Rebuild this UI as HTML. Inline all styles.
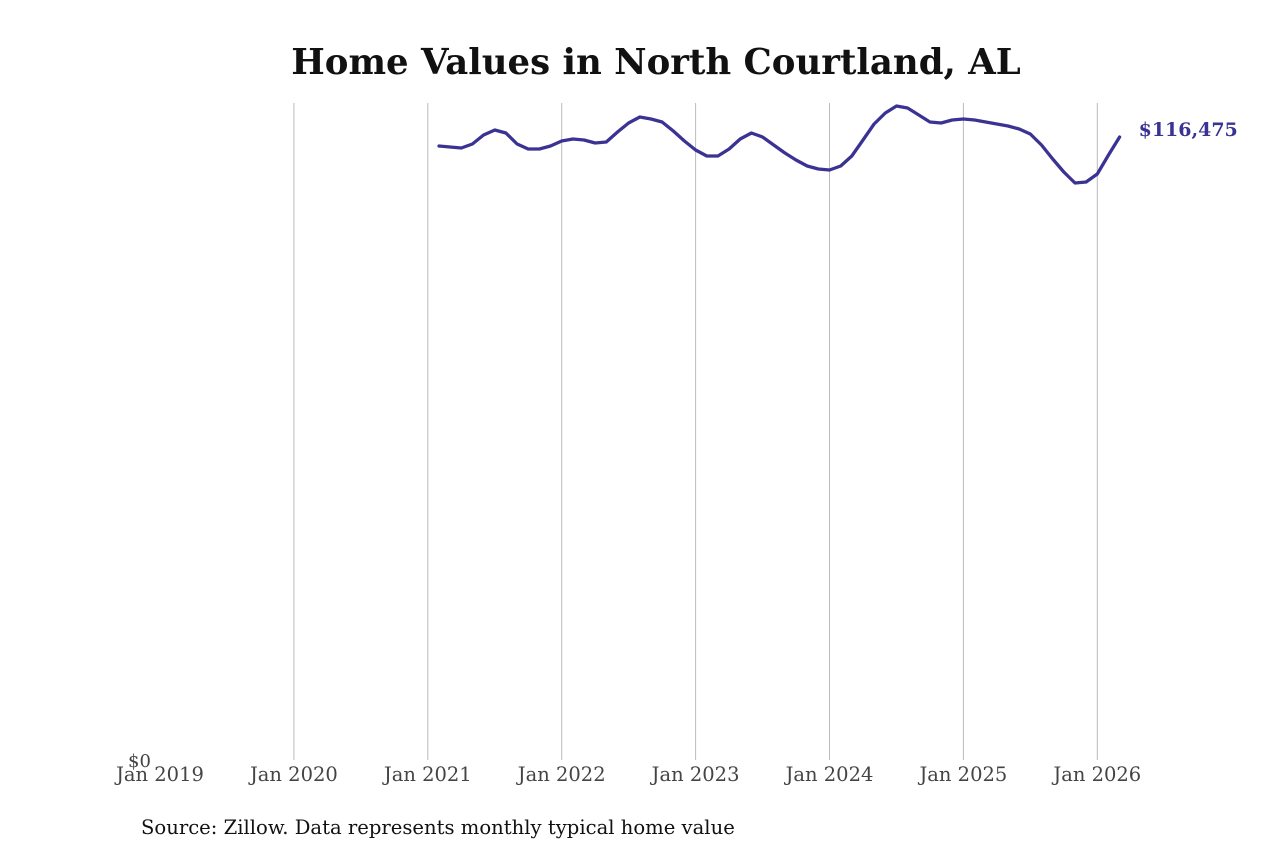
<!DOCTYPE html>
<html><head><meta charset="utf-8"><style>
html,body{margin:0;padding:0;background:#fff;}
svg{display:block;font-family:"DejaVu Serif","Liberation Serif",serif;}
</style></head><body>
<svg id="chart" width="1280" height="853">
<text x="656" y="74" text-anchor="middle" font-size="35.5" font-weight="bold" fill="#111">Home Values in North Courtland, AL</text>
<g id="grid"></g>
<g id="xticks"></g>
<text x="128" y="767" font-size="18" fill="#444">$0</text>
<path id="line" fill="none" stroke="#3b3393" stroke-width="3.3" stroke-linejoin="round" stroke-linecap="round"></path>
<text id="endlabel" font-size="19" font-weight="bold" fill="#3b3393"></text>
<text x="141" y="834" font-size="19.6" fill="#111">Source: Zillow. Data represents monthly typical home value</text>
</svg>
<script>
const tickLabels=["Jan 2019","Jan 2020","Jan 2021","Jan 2022","Jan 2023","Jan 2024","Jan 2025","Jan 2026"];
const startMonthIndex=25; // Feb 2021, months since Jan 2019
const values=[114793,114606,114419,115167,116850,117785,117224,115167,114232,114232,114793,
115728,116102,115915,115354,115541,117411,119094,120216,119842,119281,117598,115728,
114045,112923,112923,114232,116102,117224,116476,114980,113484,112175,111053,110492,
110305,111053,112923,115915,118907,120964,122273,121899,120590,119281,119094,119655,
119842,119655,119281,118907,118533,117972,117037,114980,112362,109931,107875,108062,
109557,113110,116475];
const yMax=122834;
const x=m=>160+m*(133.9/12);
const y=v=>760-v/yMax*657;
const ns="http://www.w3.org/2000/svg";
const grid=document.getElementById('grid'),xt=document.getElementById('xticks');
tickLabels.forEach((t,i)=>{
  const xx=x(i*12);
  if(i>0){const l=document.createElementNS(ns,'line');
  l.setAttribute('x1',xx);l.setAttribute('x2',xx);l.setAttribute('y1',103);l.setAttribute('y2',760);
  l.setAttribute('stroke','#bbb');l.setAttribute('stroke-width','1');
  
  
  grid.appendChild(l);}
  const tx=document.createElementNS(ns,'text');
  tx.setAttribute('x',xx);tx.setAttribute('y',781);tx.setAttribute('text-anchor','middle');
  tx.setAttribute('font-size','19.5');tx.setAttribute('fill','#444');tx.textContent=t;
  
  
  xt.appendChild(tx);
});
document.getElementById('line').setAttribute('d',values.map((v,i)=>(i?'L':'M')+x(startMonthIndex+i).toFixed(1)+','+y(v).toFixed(1)).join(''));
const last=values[values.length-1];
const el=document.getElementById('endlabel');
el.setAttribute('x',x(startMonthIndex+values.length-1)+19);
el.setAttribute('y',y(last)-1);
el.textContent='$'+last.toLocaleString('en-US');
</script>
</body></html>
